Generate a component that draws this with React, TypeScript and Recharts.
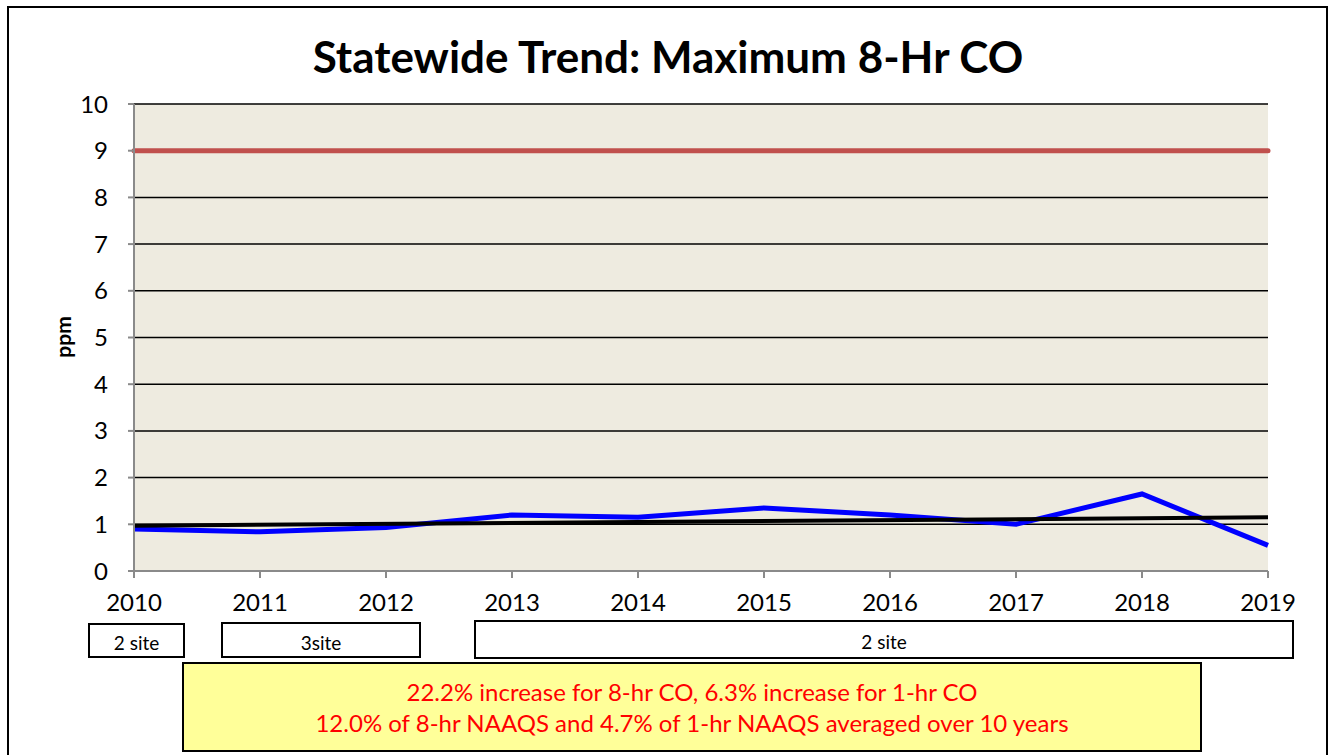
import { CartesianGrid, Line, LineChart, ReferenceLine, XAxis, YAxis } from "recharts"

const years = ["2010", "2011", "2012", "2013", "2014", "2015", "2016", "2017", "2018", "2019"]
const maxCo8hr = [0.9, 0.84, 0.93, 1.2, 1.15, 1.35, 1.2, 1.0, 1.65, 0.55]
// linear trend, only the two ends
const trend = [0.97, null, null, null, null, null, null, null, null, 1.15]
const naaqs8hr = 9
const yTicks = [0, 1, 2, 3, 4, 5, 6, 7, 8, 9, 10]

const siteBoxes = [
  { label: "2 site", left: 88, width: 97, top: 623, height: 35 },
  { label: "3site", left: 221, width: 200, top: 622, height: 36 },
  { label: "2 site", left: 474, width: 820, top: 620, height: 39 },
]

const notes = [
  "22.2% increase for 8-hr CO, 6.3% increase for 1-hr CO",
  "12.0% of 8-hr NAAQS and 4.7% of 1-hr NAAQS averaged over 10 years",
]

const data = years.map((year, i) => ({
  year,
  co: maxCo8hr[i],
  trend: trend[i],
}))

const font = "Lato, 'Open Sans', sans-serif"

export default function App() {
  return (
    <div
      style={{
        position: "absolute",
        left: 0,
        top: 0,
        width: 1336,
        height: 755,
        background: "#fff",
        overflow: "hidden",
        fontFamily: font,
      }}
    >
      {/* outer chart frame, runs off the bottom */}
      <div
        style={{
          position: "absolute",
          left: 7,
          top: 6,
          width: 1321,
          height: 800,
          border: "2px solid #000",
          boxSizing: "border-box",
        }}
      />
      <div
        style={{
          position: "absolute",
          left: 0,
          width: 1336,
          top: 28,
          textAlign: "center",
          fontSize: 44,
          fontWeight: 700,
          lineHeight: "56px",
        }}
      >
        Statewide Trend: Maximum 8-Hr CO
      </div>
      <div
        style={{
          position: "absolute",
          left: 62,
          top: 337,
          transform: "translate(-50%, -50%) rotate(-90deg)",
          fontSize: 21,
          fontWeight: 700,
        }}
      >
        ppm
      </div>

      <div style={{ position: "absolute", left: 0, top: 0 }}>
        <LineChart
          width={1336}
          height={755}
          data={data}
          margin={{ top: 104, right: 68, left: 74, bottom: 144 }}
        >
          <CartesianGrid vertical={false} stroke="#000" strokeWidth={1.5} fill="#EEEBE0" fillOpacity={1} />
          <XAxis
            dataKey="year"
            height={40}
            stroke="#8a8a8a"
            strokeWidth={2}
            tickSize={7}
            tickMargin={16}
            interval={0}
            tick={{ fill: "#000", fontSize: 24, fontFamily: font }}
          />
          <YAxis
            width={60}
            domain={[0, 10]}
            ticks={yTicks}
            interval={0}
            stroke="#8a8a8a"
            strokeWidth={2}
            tickSize={6}
            tickMargin={20}
            tick={{ fill: "#000", fontSize: 24, fontFamily: font }}
          />
          <ReferenceLine y={naaqs8hr} stroke="#C0504D" strokeWidth={5} strokeLinecap="round" />
          <Line
            dataKey="co"
            type="linear"
            stroke="#0000FF"
            strokeWidth={5}
            dot={false}
            isAnimationActive={false}
          />
          <Line
            dataKey="trend"
            type="linear"
            stroke="#000"
            strokeWidth={4}
            dot={false}
            connectNulls
            isAnimationActive={false}
          />
        </LineChart>
      </div>

      {siteBoxes.map((b, i) => (
        <div
          key={i}
          style={{
            position: "absolute",
            left: b.left,
            top: b.top,
            width: b.width,
            height: b.height,
            border: "2px solid #000",
            boxSizing: "border-box",
            background: "#fff",
            display: "flex",
            alignItems: "center",
            justifyContent: "center",
            fontSize: 19,
            paddingTop: 4,
          }}
        >
          {b.label}
        </div>
      ))}

      <div
        style={{
          position: "absolute",
          left: 182,
          top: 662,
          width: 1020,
          height: 90,
          border: "2px solid #000",
          boxSizing: "border-box",
          background: "#FFFF99",
          color: "#FF0000",
          fontSize: 24,
          textAlign: "center",
          paddingTop: 12,
          lineHeight: "31px",
        }}
      >
        {notes.map((n, i) => (
          <div key={i}>{n}</div>
        ))}
      </div>
    </div>
  )
}
